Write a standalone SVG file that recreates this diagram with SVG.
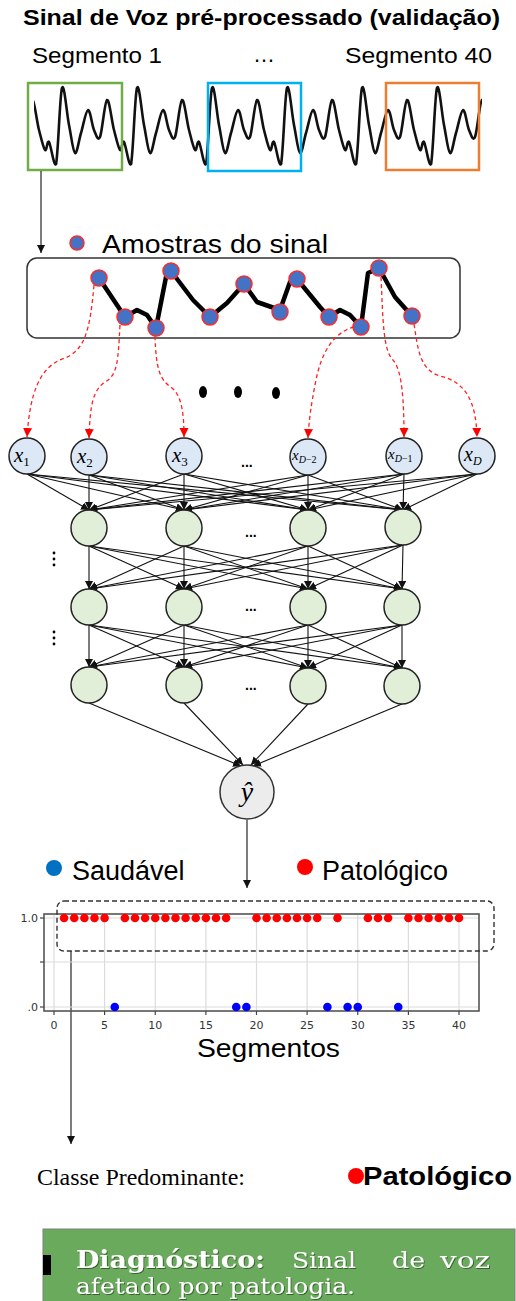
<svg xmlns="http://www.w3.org/2000/svg" width="516" height="1301" viewBox="0 0 516 1301">
<style>
.sans{font-family:"Liberation Sans",Arial,sans-serif}
.serif{font-family:"Liberation Serif","Times New Roman",serif}
.math{font-family:"Liberation Serif","DejaVu Serif",serif;font-style:italic}
.inp{fill:#dce8f5;stroke:#222;stroke-width:1.5}
.hid{fill:#e1eed8;stroke:#222;stroke-width:1.5}
.c{fill:none;stroke:#111;stroke-width:1.1}
.rd{fill:none;stroke:#ff2020;stroke-width:1.3;stroke-dasharray:4 3}
.smp{fill:#4472c4;stroke:#ff2a2a;stroke-width:1.5}
.grid{stroke:#dcdcdc;stroke-width:1.2}
.tick{font-family:"DejaVu Sans",sans-serif;font-size:11px;fill:#333}
.pr{fill:#ff0000}
.pb{fill:#0000ff}
.dots{font-family:"Liberation Sans",sans-serif;font-weight:bold;font-size:14px}
.wave{fill:none;stroke:#111;stroke-width:2.6;stroke-linejoin:round;stroke-linecap:round}
</style>
<defs>
<marker id="ah" markerUnits="userSpaceOnUse" markerWidth="8" markerHeight="8" refX="8" refY="4" orient="auto"><path d="M0,0 L8,4 L0,8 z" fill="#111"/></marker>
<marker id="ahr" markerUnits="userSpaceOnUse" markerWidth="10" markerHeight="10" refX="9" refY="5" orient="auto"><path d="M0,0.5 L9,5 L0,9.5 z" fill="#ff0000"/></marker>
<filter id="sh" x="-5%" y="-20%" width="110%" height="140%"><feDropShadow dx="1" dy="1" stdDeviation="0.6" flood-color="#000" flood-opacity="0.45"/></filter>
<path id="period" d="M0,164 C2.2,155 3.8,94.5 6,88 C8.2,81.5 10.8,114.2 13,125 C15.2,135.8 17,151.7 19,153 C21,154.3 22.8,140.2 25,133 C27.2,125.8 29.8,110.5 32,110 C34.2,109.5 36,125.5 38,130 C40,134.5 41.8,142 44,137 C46.2,132 48.7,101.2 51,100 C53.3,98.8 55.8,121.7 58,130 C60.2,138.3 62.3,148 64,150 C65.7,152 66.2,139.7 68,142 C69.8,144.3 73,168 75,164"/>
<clipPath id="wclip"><rect x="34" y="70" width="448" height="110"/></clipPath>
</defs>
<rect width="516" height="1301" fill="#fff"/>

<g id="title">
<text class="sans" x="23" y="25" font-size="22" font-weight="bold" textLength="477" lengthAdjust="spacingAndGlyphs">Sinal de Voz pré-processado (validação)</text>
<text class="sans" x="32" y="63" font-size="22" textLength="130" lengthAdjust="spacingAndGlyphs">Segmento 1</text>
<text class="sans" x="253" y="62" font-size="22">…</text>
<text class="sans" x="345" y="63" font-size="22" textLength="147" lengthAdjust="spacingAndGlyphs">Segmento 40</text>
</g>

<g id="signal">
<g class="wave" clip-path="url(#wclip)">
<use href="#period" x="-19"/>
<use href="#period" x="56"/>
<use href="#period" x="131"/>
<use href="#period" x="206"/>
<use href="#period" x="281"/>
<use href="#period" x="356"/>
<use href="#period" x="431"/>
</g>
<rect x="28" y="83" width="94" height="87" fill="none" stroke="#70ad47" stroke-width="2.5"/>
<rect x="208" y="83" width="93" height="88" fill="none" stroke="#00b0f0" stroke-width="2.5"/>
<rect x="386" y="83" width="93" height="87" fill="none" stroke="#ed7d31" stroke-width="2.5"/>
</g>

<g id="legend-samples">
<circle cx="77" cy="243" r="7" class="smp"/>
<text class="sans" x="102" y="253" font-size="25" textLength="226" lengthAdjust="spacingAndGlyphs">Amostras do sinal</text>
</g>

<g id="samples">
<rect x="27" y="258" width="433" height="80" rx="10" fill="none" stroke="#333" stroke-width="1.5"/>
<polyline fill="none" stroke="#000" stroke-width="4.5" stroke-linejoin="round" stroke-linecap="round" points="99,278 125,317 137,310 147,315 156,328 167,272 171,271 193,300 210,317 227,303 244,284 257,302 280,310 290,282 297,279 320,307 329,317 340,310 350,315 361,327 368,273 379,268 395,297 412,316"/>
<circle cx="99" cy="278" r="8" class="smp"/>
<circle cx="125" cy="317" r="8" class="smp"/>
<circle cx="156" cy="328" r="8" class="smp"/>
<circle cx="171" cy="271" r="8" class="smp"/>
<circle cx="210" cy="317" r="8" class="smp"/>
<circle cx="244" cy="284" r="8" class="smp"/>
<circle cx="280" cy="312" r="8" class="smp"/>
<circle cx="297" cy="279" r="8" class="smp"/>
<circle cx="329" cy="317" r="8" class="smp"/>
<circle cx="361" cy="327" r="8" class="smp"/>
<circle cx="379" cy="268" r="8" class="smp"/>
<circle cx="412" cy="316" r="8" class="smp"/>
</g>

<g id="ellipsis-dots">
<ellipse cx="203" cy="392" rx="4" ry="6"/>
<ellipse cx="238" cy="392" rx="4" ry="6"/>
<ellipse cx="276" cy="393" rx="4" ry="6"/>
</g>

<g id="connectors">
<path class="c" d="M41,171 L41,253" marker-end="url(#ah)"/>
<path class="rd" d="M94,285 C90,330 85,350 65,358 C40,366 30,392 27,437" marker-end="url(#ahr)"/>
<path class="rd" d="M120,325 C118,360 118,375 105,382 C93,390 90,405 89,438" marker-end="url(#ahr)"/>
<path class="rd" d="M155,336 C156,370 160,380 172,388 C182,396 184,415 184,437" marker-end="url(#ahr)"/>
<path class="rd" d="M354,327 C335,332 322,350 316,380 C311,405 309,420 308,438" marker-end="url(#ahr)"/>
<path class="rd" d="M381,277 C383,320 383,350 393,360 C402,370 404,400 404,437" marker-end="url(#ahr)"/>
<path class="rd" d="M414,324 C418,350 420,370 440,376 C465,382 476,400 477,437" marker-end="url(#ahr)"/>

<g marker-end="url(#ah)">
<path class="c" d="M27,474 L89,510"/><path class="c" d="M27,474 L184,510"/><path class="c" d="M27,474 L308,510"/><path class="c" d="M27,474 L403,510"/>
<path class="c" d="M89,475 L89,510"/><path class="c" d="M89,475 L184,510"/><path class="c" d="M89,475 L308,510"/><path class="c" d="M89,475 L403,510"/>
<path class="c" d="M184,474 L89,510"/><path class="c" d="M184,474 L184,510"/><path class="c" d="M184,474 L308,510"/><path class="c" d="M184,474 L403,510"/>
<path class="c" d="M308,475 L89,510"/><path class="c" d="M308,475 L184,510"/><path class="c" d="M308,475 L308,510"/><path class="c" d="M308,475 L403,510"/>
<path class="c" d="M404,474 L89,510"/><path class="c" d="M404,474 L184,510"/><path class="c" d="M404,474 L308,510"/><path class="c" d="M404,474 L403,510"/>
<path class="c" d="M477,474 L89,510"/><path class="c" d="M477,474 L184,510"/><path class="c" d="M477,474 L308,510"/><path class="c" d="M477,474 L403,510"/>

<path class="c" d="M89,546 L89,589"/><path class="c" d="M89,546 L184,589"/><path class="c" d="M89,546 L308,589"/><path class="c" d="M89,546 L402,589"/>
<path class="c" d="M184,546 L89,589"/><path class="c" d="M184,546 L184,589"/><path class="c" d="M184,546 L308,589"/><path class="c" d="M184,546 L402,589"/>
<path class="c" d="M308,546 L89,589"/><path class="c" d="M308,546 L184,589"/><path class="c" d="M308,546 L308,589"/><path class="c" d="M308,546 L402,589"/>
<path class="c" d="M403,545 L89,589"/><path class="c" d="M403,545 L184,589"/><path class="c" d="M403,545 L308,589"/><path class="c" d="M403,545 L402,589"/>

<path class="c" d="M89,625 L89,667"/><path class="c" d="M89,625 L184,667"/><path class="c" d="M89,625 L308,668"/><path class="c" d="M89,625 L402,668"/>
<path class="c" d="M184,625 L89,667"/><path class="c" d="M184,625 L184,667"/><path class="c" d="M184,625 L308,668"/><path class="c" d="M184,625 L402,668"/>
<path class="c" d="M308,625 L89,667"/><path class="c" d="M308,625 L184,667"/><path class="c" d="M308,625 L308,668"/><path class="c" d="M308,625 L402,668"/>
<path class="c" d="M402,625 L89,667"/><path class="c" d="M402,625 L184,667"/><path class="c" d="M402,625 L308,668"/><path class="c" d="M402,625 L402,668"/>

<path class="c" d="M89,703 L241,766"/><path class="c" d="M184,703 L243,765"/><path class="c" d="M308,704 L251,765"/><path class="c" d="M402,704 L253,766"/>
<path class="c" d="M247,820 L247,888"/>
<path class="c" d="M71,951 L71,1144"/>
</g>
</g>

<g id="input-x1"><circle cx="27" cy="456" r="18" class="inp"/><text class="math" x="14" y="462" font-size="21">x<tspan font-style="normal" font-size="13" dy="4">1</tspan></text></g>
<g id="input-x2"><circle cx="89" cy="457" r="18" class="inp"/><text class="math" x="77" y="463" font-size="21">x<tspan font-style="normal" font-size="13" dy="4">2</tspan></text></g>
<g id="input-x3"><circle cx="184" cy="456" r="18" class="inp"/><text class="math" x="172" y="462" font-size="21">x<tspan font-style="normal" font-size="13" dy="4">3</tspan></text></g>
<g id="input-xD-2"><circle cx="308" cy="457" r="18" class="inp"/><text class="math" x="292" y="460" font-size="15">x<tspan font-size="10" dy="3">D</tspan><tspan font-style="normal" font-size="10">−2</tspan></text></g>
<g id="input-xD-1"><circle cx="404" cy="456" r="18" class="inp"/><text class="math" x="388" y="459" font-size="15">x<tspan font-size="10" dy="3">D</tspan><tspan font-style="normal" font-size="10">−1</tspan></text></g>
<g id="input-xD"><circle cx="477" cy="456" r="18" class="inp"/><text class="math" x="464" y="461" font-size="20">x<tspan font-size="12" dy="4">D</tspan></text></g>
<text class="dots" x="241" y="467">...</text>

<g id="h1-1"><circle cx="89" cy="528" r="18" class="hid"/></g>
<g id="h1-2"><circle cx="184" cy="528" r="18" class="hid"/></g>
<g id="h1-3"><circle cx="308" cy="528" r="18" class="hid"/></g>
<g id="h1-4"><circle cx="403" cy="527" r="18" class="hid"/></g>
<text class="dots" x="245" y="537">...</text>

<g id="h2-1"><circle cx="89" cy="607" r="18" class="hid"/></g>
<g id="h2-2"><circle cx="184" cy="607" r="18" class="hid"/></g>
<g id="h2-3"><circle cx="308" cy="607" r="18" class="hid"/></g>
<g id="h2-4"><circle cx="402" cy="607" r="18" class="hid"/></g>
<text class="dots" x="245" y="611">...</text>

<g id="h3-1"><circle cx="89" cy="685" r="18" class="hid"/></g>
<g id="h3-2"><circle cx="184" cy="685" r="18" class="hid"/></g>
<g id="h3-3"><circle cx="308" cy="686" r="18" class="hid"/></g>
<g id="h3-4"><circle cx="402" cy="686" r="18" class="hid"/></g>
<text class="dots" x="245" y="690">...</text>

<g id="vdots">
<circle cx="54" cy="553" r="1.4"/><circle cx="54" cy="559" r="1.4"/><circle cx="54" cy="565" r="1.4"/>
<circle cx="54" cy="632" r="1.4"/><circle cx="54" cy="638" r="1.4"/><circle cx="54" cy="644" r="1.4"/>
</g>

<g id="output">
<circle cx="247" cy="792" r="27" fill="#ececec" stroke="#333" stroke-width="1.5"/>
<text class="math" x="247" y="801" font-size="28" text-anchor="middle">ŷ</text>
</g>

<g id="legend-classes">
<circle cx="54" cy="868" r="8" fill="#0070c0"/>
<text class="sans" x="72" y="880" font-size="27">Saudável</text>
<circle cx="305" cy="867" r="8" fill="#ff0000"/>
<text class="sans" x="322" y="880" font-size="27">Patológico</text>
</g>

<g id="chart">
<g class="grid">
<line x1="54" y1="914" x2="54" y2="1011"/><line x1="104.6" y1="914" x2="104.6" y2="1011"/><line x1="155.25" y1="914" x2="155.25" y2="1011"/><line x1="205.9" y1="914" x2="205.9" y2="1011"/><line x1="256.5" y1="914" x2="256.5" y2="1011"/><line x1="307.1" y1="914" x2="307.1" y2="1011"/><line x1="357.75" y1="914" x2="357.75" y2="1011"/><line x1="408.4" y1="914" x2="408.4" y2="1011"/><line x1="459" y1="914" x2="459" y2="1011"/>
<line x1="44" y1="918" x2="479" y2="918"/><line x1="44" y1="962" x2="479" y2="962"/><line x1="44" y1="1007" x2="479" y2="1007"/>
</g>
<rect x="44" y="914" width="435" height="97" fill="none" stroke="#555" stroke-width="1.6"/>
<g stroke="#444" stroke-width="1.2">
<line x1="40" y1="918" x2="44" y2="918"/><line x1="40" y1="962" x2="44" y2="962"/><line x1="40" y1="1007" x2="44" y2="1007"/>
<line x1="54" y1="1011" x2="54" y2="1015"/><line x1="104.6" y1="1011" x2="104.6" y2="1015"/><line x1="155.25" y1="1011" x2="155.25" y2="1015"/><line x1="205.9" y1="1011" x2="205.9" y2="1015"/><line x1="256.5" y1="1011" x2="256.5" y2="1015"/><line x1="307.1" y1="1011" x2="307.1" y2="1015"/><line x1="357.75" y1="1011" x2="357.75" y2="1015"/><line x1="408.4" y1="1011" x2="408.4" y2="1015"/><line x1="459" y1="1011" x2="459" y2="1015"/>
</g>
<text class="tick" x="38" y="922" text-anchor="end">1.0</text>
<text class="tick" x="38" y="1011" text-anchor="end">.0</text>
<g class="tick" text-anchor="middle">
<text x="54" y="1029">0</text><text x="104.6" y="1029">5</text><text x="155.25" y="1029">10</text><text x="205.9" y="1029">15</text><text x="256.5" y="1029">20</text><text x="307.1" y="1029">25</text><text x="357.75" y="1029">30</text><text x="408.4" y="1029">35</text><text x="459" y="1029">40</text>
</g>
<g class="pr">
<circle cx="64.1" cy="918" r="4.3"/><circle cx="74.25" cy="918" r="4.3"/><circle cx="84.4" cy="918" r="4.3"/><circle cx="94.5" cy="918" r="4.3"/><circle cx="104.6" cy="918" r="4.3"/>
<circle cx="124.9" cy="918" r="4.3"/><circle cx="135" cy="918" r="4.3"/><circle cx="145.1" cy="918" r="4.3"/><circle cx="155.25" cy="918" r="4.3"/><circle cx="165.4" cy="918" r="4.3"/><circle cx="175.5" cy="918" r="4.3"/><circle cx="185.6" cy="918" r="4.3"/><circle cx="195.75" cy="918" r="4.3"/><circle cx="205.9" cy="918" r="4.3"/><circle cx="216" cy="918" r="4.3"/><circle cx="226.1" cy="918" r="4.3"/>
<circle cx="256.5" cy="918" r="4.3"/><circle cx="266.6" cy="918" r="4.3"/><circle cx="276.75" cy="918" r="4.3"/><circle cx="286.9" cy="918" r="4.3"/><circle cx="297" cy="918" r="4.3"/><circle cx="307.1" cy="918" r="4.3"/><circle cx="317.25" cy="918" r="4.3"/>
<circle cx="337.5" cy="918" r="4.3"/>
<circle cx="367.9" cy="918" r="4.3"/><circle cx="378" cy="918" r="4.3"/><circle cx="388.1" cy="918" r="4.3"/>
<circle cx="408.4" cy="918" r="4.3"/><circle cx="418.5" cy="918" r="4.3"/><circle cx="428.6" cy="918" r="4.3"/><circle cx="438.75" cy="918" r="4.3"/><circle cx="448.9" cy="918" r="4.3"/><circle cx="459" cy="918" r="4.3"/>
</g>
<g class="pb">
<circle cx="114.75" cy="1007" r="4.3"/><circle cx="236.25" cy="1007" r="4.3"/><circle cx="246.4" cy="1007" r="4.3"/><circle cx="327.4" cy="1007" r="4.3"/><circle cx="347.6" cy="1007" r="4.3"/><circle cx="357.75" cy="1007" r="4.3"/><circle cx="398.25" cy="1007" r="4.3"/>
</g>
<rect x="57" y="901" width="437" height="50" rx="7" fill="none" stroke="#333" stroke-width="1.4" stroke-dasharray="5 3"/>
<text class="sans" x="197" y="1057" font-size="26" textLength="143" lengthAdjust="spacingAndGlyphs">Segmentos</text>
</g>

<g id="predominant">
<text class="serif" x="37" y="1185" font-size="24" textLength="208" lengthAdjust="spacingAndGlyphs">Classe Predominante:</text>
<circle cx="356" cy="1176" r="8" fill="#ff0000"/>
<text class="sans" x="363" y="1185" font-size="25" font-weight="bold" textLength="149" lengthAdjust="spacingAndGlyphs">Patológico</text>
</g>

<g id="diagnosis">
<rect x="43" y="1229" width="472" height="80" fill="#6aaa5c" stroke="#7f7f7f" stroke-width="1"/>
<rect x="43" y="1255" width="8" height="20" fill="#000"/>
<g filter="url(#sh)" fill="#fff" font-family="'DejaVu Serif',Georgia,serif" font-size="23">
<text x="76" y="1268" font-weight="bold" font-size="24" textLength="189" lengthAdjust="spacingAndGlyphs">Diagnóstico:</text>
<text x="292" y="1268" textLength="64" lengthAdjust="spacingAndGlyphs">Sinal</text>
<text x="392" y="1268" textLength="33" lengthAdjust="spacingAndGlyphs">de</text>
<text x="440" y="1268" textLength="50" lengthAdjust="spacingAndGlyphs">voz</text>
<text x="76" y="1294" textLength="279" lengthAdjust="spacingAndGlyphs">afetado por patologia.</text>
</g>
</g>
</svg>
